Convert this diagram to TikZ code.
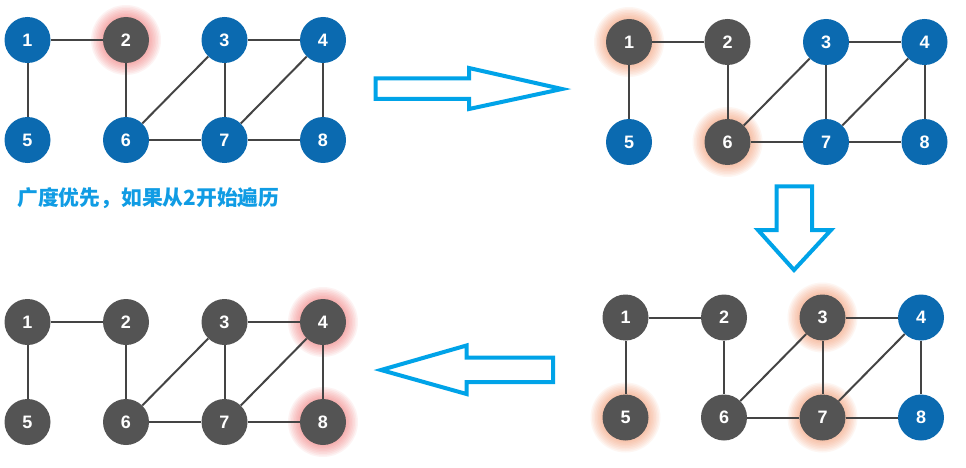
\documentclass[tikz,border=0pt]{standalone}
\usepackage{fontspec}
\setmainfont{Liberation Sans}
\newfontfamily\cjk{Noto Sans CJK SC}
\definecolor{nodeblue}{RGB}{11,106,176}
\definecolor{nodegray}{RGB}{84,84,84}
\definecolor{edgegray}{RGB}{68,68,68}
\definecolor{arrowblue}{RGB}{0,163,232}
\definecolor{textblue}{RGB}{16,156,228}
\definecolor{glowred}{RGB}{240,95,95}
\definecolor{glowor}{RGB}{245,135,85}
\tikzset{
  vertex/.style={circle, minimum size=46pt, inner sep=0pt, text=white,
    font=\bfseries\fontsize{18}{18}\selectfont},
  edge/.style={draw=edgegray, line width=2pt},
  blockarrow/.style={draw=arrowblue, line width=4pt, line join=miter},
  caption/.style={text=textblue, font=\cjk\bfseries\fontsize{20.8}{22}\selectfont, anchor=west, inner sep=0pt}
}
% #1 prefix, #2 x0, #3 y0, #4 list index/fill/glow(0 none,1 red,2 orange)
\newcommand\bfsgraph[4]{%
  \foreach \i/\c/\g in {#4} {
    \pgfmathsetmacro\cx{#2+98.5*mod(\i-1,4)}
    \pgfmathsetmacro\cy{#3+100*floor((\i-1)/4)}
    \ifnum\g=1
      \foreach \r in {24.5,26,...,35} \fill[glowred, opacity=0.075] (\cx,\cy) circle (\r pt);
    \fi
    \ifnum\g=2
      \foreach \r in {24.5,26,...,35} \fill[glowor, opacity=0.075] (\cx,\cy) circle (\r pt);
    \fi
    \node[vertex, fill=\c] (#1\i) at (\cx,\cy) {\i};
  }
  \foreach \a/\b in {1/2,1/5,2/6,3/4,3/6,3/7,4/7,4/8,6/7,7/8}
    \draw[edge] (#1\a) -- (#1\b);
}
\begin{document}
\begin{tikzpicture}[x=1pt,y=-1pt]
\useasboundingbox (0,0) rectangle (966,468);
\fill[white] (0,0) rectangle (966,468);
% top-left
\bfsgraph{a}{27.5}{40}{1/nodeblue/0,2/nodegray/1,3/nodeblue/0,4/nodeblue/0,5/nodeblue/0,6/nodeblue/0,7/nodeblue/0,8/nodeblue/0}
% top-right
\bfsgraph{b}{629}{42}{1/nodegray/2,2/nodegray/0,3/nodeblue/0,4/nodeblue/0,5/nodeblue/0,6/nodegray/2,7/nodeblue/0,8/nodeblue/0}
% bottom-right
\bfsgraph{c}{625.5}{317.5}{1/nodegray/0,2/nodegray/0,3/nodegray/2,4/nodeblue/0,5/nodegray/2,6/nodegray/0,7/nodegray/2,8/nodeblue/0}
% bottom-left
\bfsgraph{d}{27.5}{322}{1/nodegray/0,2/nodegray/0,3/nodegray/0,4/nodegray/1,5/nodegray/0,6/nodegray/0,7/nodegray/0,8/nodegray/1}
% caption
\node[caption] (cap) at (17,198) {广度优先，如果从2开始遍历};
% block arrows
\draw[blockarrow] (375.7,78.5) -- (469,78.5) -- (469,68) -- (562,89) -- (469,109) -- (469,99) -- (375.7,99) -- cycle;
\draw[blockarrow] (776.7,186.3) -- (812,186.3) -- (812,230) -- (831,230) -- (794,270) -- (758,230) -- (776.7,230) -- cycle;
\draw[blockarrow] (553,357.5) -- (466.5,357.5) -- (466.5,345.5) -- (381,370) -- (466.5,394) -- (466.5,382) -- (553,382) -- cycle;
\end{tikzpicture}
\end{document}
